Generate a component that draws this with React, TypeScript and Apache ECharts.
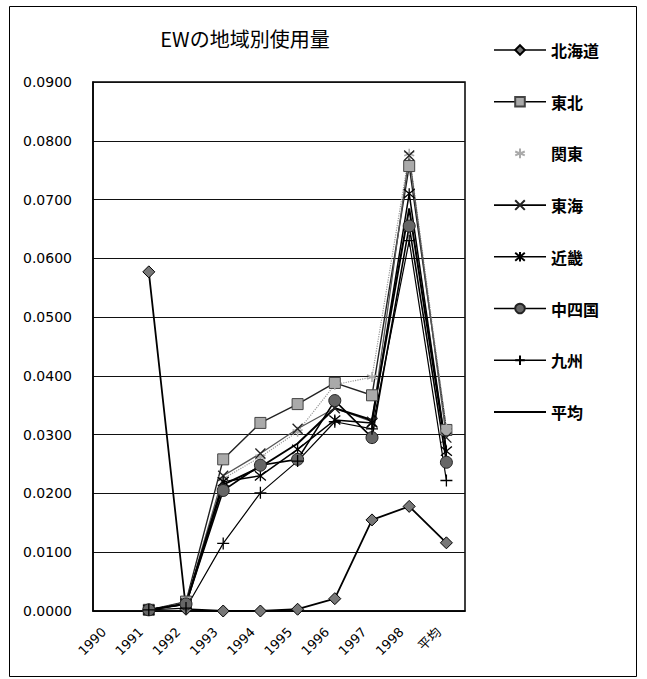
import React, { useEffect, useRef } from "react";
import * as echarts from "echarts";

const categories = ["1990", "1991", "1992", "1993", "1994", "1995", "1996", "1997", "1998", "平均"];
const hokkaido = [null, 0.0577, 0.0003, 0.0, 0.0, 0.0003, 0.0021, 0.0155, 0.0178, 0.0116];
const tohoku = [null, 0.0002, 0.0016, 0.0258, 0.032, 0.0352, 0.0388, 0.0367, 0.0757, 0.0308];
const kanto = [null, 0.0002, 0.0014, 0.0225, 0.0262, 0.0305, 0.0385, 0.0398, 0.0778, 0.031];
const tokai = [null, 0.0002, 0.0013, 0.023, 0.0268, 0.031, 0.0345, 0.0322, 0.0775, 0.0295];
const kinki = [null, 0.0002, 0.0012, 0.022, 0.023, 0.0275, 0.0325, 0.032, 0.071, 0.0272];
const chushikoku = [null, 0.0002, 0.0012, 0.0205, 0.0248, 0.0258, 0.0358, 0.0295, 0.0655, 0.0253];
const kyushu = [null, 0.0002, 0.0005, 0.0115, 0.0201, 0.0255, 0.0322, 0.031, 0.063, 0.0222];
const heikin = [null, 0.0002, 0.0012, 0.0215, 0.0245, 0.0285, 0.0345, 0.0325, 0.0685, 0.027];

const X_PATH = "path://M0,0L10,10M10,0L0,10";
const AST_PATH = "path://M0,0L10,10M10,0L0,10M5,-1L5,11";
const PLUS_PATH = "path://M5,0L5,10M0,5L10,5";
const STAR_PATH = "path://M5,0L5,10M0,3L10,7M10,3L0,7";

export default function App() {
  const ref = useRef<HTMLDivElement>(null);
  useEffect(() => {
    document.body.style.margin = "0";
    const chart = echarts.init(ref.current!, null, { renderer: "svg" });
    const font = "'DejaVu Sans', 'Noto Sans CJK JP', sans-serif";
    const mk = (name: string, data: any[], symbol: string, size: number, itemStyle: any, lineStyle: any, showSymbol = true) => ({
      name,
      type: "line",
      data,
      symbol,
      symbolSize: size,
      showSymbol,
      itemStyle,
      lineStyle,
      connectNulls: false,
      z: 2,
    });
    chart.setOption({
      animation: false,
      backgroundColor: "#fff",
      textStyle: { fontFamily: font },
      title: {
        text: "EWの地域別使用量",
        left: 240,
        textAlign: "center",
        top: 23,
        textStyle: { fontSize: 20, fontWeight: "normal", color: "#000", fontFamily: "'Noto Sans CJK JP', sans-serif" },
      },
      graphic: [
        {
          type: "rect",
          shape: { x: 9.5, y: 6.5, width: 627, height: 670 },
          style: { fill: "none", stroke: "#000", lineWidth: 1 },
          silent: true,
        },
      ],
      legend: {
        orient: "vertical",
        left: 488,
        top: 37,
        itemWidth: 52,
        itemHeight: 12,
        itemGap: 35.7,
        lineStyle: { width: 1.6, color: "#000" },
        data: [
          "北海道",
          "東北",
          { name: "関東", lineStyle: { opacity: 0 } },
          "東海",
          "近畿",
          "中四国",
          "九州",
          { name: "平均", itemStyle: { color: "rgba(0,0,0,0)", borderWidth: 0 }, lineStyle: { width: 2 } },
        ],
        textStyle: { fontSize: 16, fontWeight: "bold", color: "#000", fontFamily: "'Noto Sans CJK JP', sans-serif" },
      },
      grid: {
        left: 93,
        right: 182,
        top: 82,
        bottom: 68,
        show: true,
        borderColor: "#000",
        borderWidth: 1.5,
        backgroundColor: "#fff",
      },
      xAxis: {
        type: "category",
        data: categories,
        boundaryGap: true,
        axisLine: { lineStyle: { color: "#000", width: 1.5 } },
        axisTick: { inside: true, length: 4, lineStyle: { color: "#000" } },
        axisLabel: { rotate: 45, fontSize: 13, color: "#000", margin: 11, padding: [0, 11, 0, 0], fontFamily: font },
        splitLine: { show: false },
      },
      yAxis: {
        type: "value",
        min: 0,
        max: 0.09,
        interval: 0.01,
        axisLine: { show: true, lineStyle: { color: "#000", width: 1.5 } },
        axisTick: { show: false },
        axisLabel: {
          fontSize: 14,
          color: "#000",
          margin: 21,
          fontFamily: font,
          formatter: (v: number) => v.toFixed(4),
        },
        splitLine: { show: true, lineStyle: { color: "#111", width: 1 } },
      },
      series: [
        mk("北海道", hokkaido, "diamond", 12,
          { color: "#777", borderColor: "#000", borderWidth: 1 },
          { color: "#000", width: 1.8 }),
        mk("東北", tohoku, "rect", 11,
          { color: "#aaa", borderColor: "#444", borderWidth: 1 },
          { color: "#222", width: 1.4 }),
        mk("関東", kanto, STAR_PATH, 10,
          { color: "none", borderColor: "#aaa", borderWidth: 1.5 },
          { color: "#999", width: 1.2, type: "dotted" }),
        mk("東海", tokai, X_PATH, 10,
          { color: "none", borderColor: "#222", borderWidth: 1.3 },
          { color: "#555", width: 1.3 }),
        mk("近畿", kinki, AST_PATH, 11,
          { color: "none", borderColor: "#000", borderWidth: 1.3 },
          { color: "#000", width: 1.5 }),
        mk("中四国", chushikoku, "circle", 12,
          { color: "#666", borderColor: "#222", borderWidth: 1 },
          { color: "#000", width: 1.6 }),
        mk("九州", kyushu, PLUS_PATH, 12,
          { color: "none", borderColor: "#000", borderWidth: 1.3 },
          { color: "#000", width: 1.2 }),
        mk("平均", heikin, "circle", 0,
          { color: "rgba(0,0,0,0)", borderWidth: 0 },
          { color: "#000", width: 2 }, false),
      ],
    });
    return () => chart.dispose();
  }, []);
  return <div ref={ref} style={{ width: 647, height: 679 }} />;
}
